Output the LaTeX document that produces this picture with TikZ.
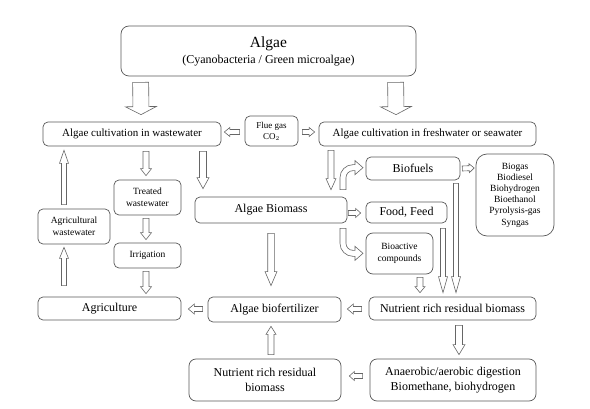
\documentclass[tikz,border=0pt]{standalone}
\usepackage{fontspec}
\setmainfont{Liberation Serif}
\usetikzlibrary{calc}
\newcommand\fsz[2]{\fontsize{#1}{#2}\selectfont}
\newcommand\barrow[5]{%
  \coordinate (ba) at (#1);
  \coordinate (bb) at (#2);
  \coordinate (bh) at ($(bb)!#5pt!(ba)$);
  \draw[barr] ($(ba)!#3pt!90:(bb)$) -- ($(bh)!#3pt!90:(bb)$) -- ($(bh)!#4pt!90:(bb)$)
    -- (bb) -- ($(bh)!#4pt!-90:(bb)$) -- ($(bh)!#3pt!-90:(bb)$) -- ($(ba)!#3pt!-90:(bb)$) -- cycle;}
\begin{document}
\begin{tikzpicture}[x=1pt,y=-1pt,
  box/.style={draw=black!65, line width=0.7pt, rounded corners=5pt, fill=white,
    align=center, inner sep=0pt, font=\fsz{12}{15}},
  smallbox/.style={box, font=\fsz{9.5}{12}},
  barr/.style={draw=black!60, line width=0.6pt, fill=white, line join=miter}]
\useasboundingbox (0,0) rectangle (590,409);
% nodes
\node[box, minimum width=295pt, minimum height=50pt, rounded corners=8pt] (algae) at (268.5,51)
  {{\fsz{15.5}{18}Algae}\\[1pt]{\fsz{12}{14}(Cyanobacteria / Green microalgae)}};
\node[box, font=\fsz{11}{13}, minimum width=178pt, minimum height=24pt] (cww) at (132,134) {Algae cultivation in wastewater};
\node[box, font=\fsz{9}{11}, minimum width=53pt, minimum height=30pt] (flue) at (271.5,131) {Flue gas\\CO$_2$};
\node[box, font=\fsz{11}{13}, minimum width=217pt, minimum height=24pt] (cfw) at (427.5,134) {Algae cultivation in freshwater or seawater};
\node[smallbox, minimum width=67pt, minimum height=35pt] (treated) at (147.5,197.5) {Treated\\wastewater};
\node[smallbox, minimum width=67pt, minimum height=25pt] (irrig) at (147.5,255.5) {Irrigation};
\node[box, minimum width=143pt, minimum height=23pt] (agri) at (109.5,308.5) {Agriculture};
\node[smallbox, minimum width=72pt, minimum height=35pt] (agww) at (74,226.5) {Agricultural\\wastewater};
\node[box, minimum width=152pt, minimum height=26pt] (biomass) at (271,210) {Algae Biomass};
\node[box, minimum width=94pt, minimum height=23pt] (biofuels) at (413,168.5) {Biofuels};
\node[box, font=\fsz{9.5}{11.2}, minimum width=78pt, minimum height=82pt, rounded corners=11pt] (list) at (515,195)
  {Biogas\\Biodiesel\\Biohydrogen\\Bioethanol\\Pyrolysis-gas\\Syngas};
\node[box, minimum width=81pt, minimum height=21pt] (food) at (406.5,212.5) {Food, Feed};
\node[smallbox, minimum width=67pt, minimum height=41pt, rounded corners=7pt] (bioact) at (399.5,253.5) {Bioactive\\compounds};
\node[box, minimum width=167pt, minimum height=23pt] (nrrb) at (452.5,308.5) {Nutrient rich residual biomass};
\node[box, minimum width=133pt, minimum height=25pt] (biofert) at (274.5,309.5) {Algae biofertilizer};
\node[box, minimum width=152pt, minimum height=42pt, rounded corners=7pt] (nrrb2) at (265,380) {Nutrient rich residual\\biomass};
\node[box, minimum width=166pt, minimum height=42pt, rounded corners=7pt] (anaer) at (453,380) {Anaerobic/aerobic digestion\\Biomethane, biohydrogen};
% block arrows
\barrow{[shift={(20,6)}]algae.south west}{[shift={(9,-7)}]cww.north}{8}{15.5}{8}
\barrow{[shift={(275,6)}]algae.south west}{[shift={(-31.5,-7)}]cfw.north}{8}{15.5}{8}
\barrow{[shift={(-5,1)}]flue.west}{[shift={(3,-2)}]cww.east}{2.5}{4.5}{5.5}
\barrow{[shift={(4,1)}]flue.east}{[shift={(-4,-2)}]cfw.west}{2.5}{4.5}{5.5}
\barrow{[shift={(14,5)}]cww.south}{[shift={(-1.5,-4)}]treated.north}{3}{5.5}{7}
\barrow{[shift={(71,5)}]cww.south}{[shift={(-68,-8)}]biomass.north}{3.5}{6}{11}
\barrow{[shift={(-1.5,3)}]treated.south}{[shift={(-1.5,-3)}]irrig.north}{3}{5.5}{7}
\barrow{[shift={(-1.5,3)}]irrig.south}{[shift={(36.5,-3)}]agri.north}{3}{5.5}{7}
\barrow{[shift={(-45.5,-11)}]agri.north}{[shift={(-10,3)}]agww.south}{2.5}{4.5}{11}
\barrow{[shift={(-10,-4)}]agww.north}{[shift={(-68,4)}]cww.south}{2.5}{4.5}{13}
\barrow{[shift={(-96.5,4)}]cfw.south}{[shift={(60,-7)}]biomass.north}{3}{5}{11}
\barrow{[shift={(1,3)}]biomass.east}{[shift={(-5,0.5)}]food.west}{2.5}{4.5}{5}
\barrow{[shift={(2,0)}]biofuels.east}{[shift={(-1.5,-27)}]list.west}{2.5}{4.5}{5}
\barrow{[shift={(20.5,3)}]bioact.south}{[shift={(-32.5,-4)}]nrrb.north}{3}{5}{6}
\barrow{[shift={(36.5,5)}]food.south}{[shift={(-9.5,-4)}]nrrb.north}{2.5}{4.5}{16}
\barrow{[shift={(43,3)}]biofuels.south}{[shift={(3.5,-4)}]nrrb.north}{2.5}{4.5}{16}
\barrow{[shift={(-7,0.5)}]nrrb.west}{[shift={(6,-0.5)}]biofert.east}{2.5}{5}{6}
\barrow{[shift={(-5,-0.5)}]biofert.west}{[shift={(7,0.5)}]agri.east}{2.5}{5}{6}
\barrow{[shift={(0,10)}]biomass.south}{[shift={(-3.5,-11)}]biofert.north}{3.3}{6}{14}
\barrow{[shift={(6,-4)}]nrrb2.north}{[shift={(-3.5,4)}]biofert.south}{3}{5}{8}
\barrow{[shift={(6.5,5)}]nrrb.south}{[shift={(6,-4)}]anaer.north}{3.5}{6}{10}
\barrow{[shift={(-7,-4)}]anaer.west}{[shift={(8,-4)}]nrrb2.east}{2.5}{4.5}{5}
% curved arrows
\begin{scope}[shift={(biomass.north)}]
\draw[barr] (69,-7) -- (69,-19) arc(180:270:13) -- (84,-32) -- (84,-36) -- (92,-29) -- (84,-22)
  -- (84,-26) -- (82,-26) arc(270:180:7) -- (75,-7) -- cycle;
\end{scope}
\begin{scope}[shift={(biomass.south)}]
\draw[barr] (69,5) -- (69,20) arc(180:90:13) -- (84,33) -- (84,37) -- (92,30) -- (84,23)
  -- (84,27) -- (82,27) arc(90:180:7) -- (75,5) -- cycle;
\end{scope}
\end{tikzpicture}
\end{document}
